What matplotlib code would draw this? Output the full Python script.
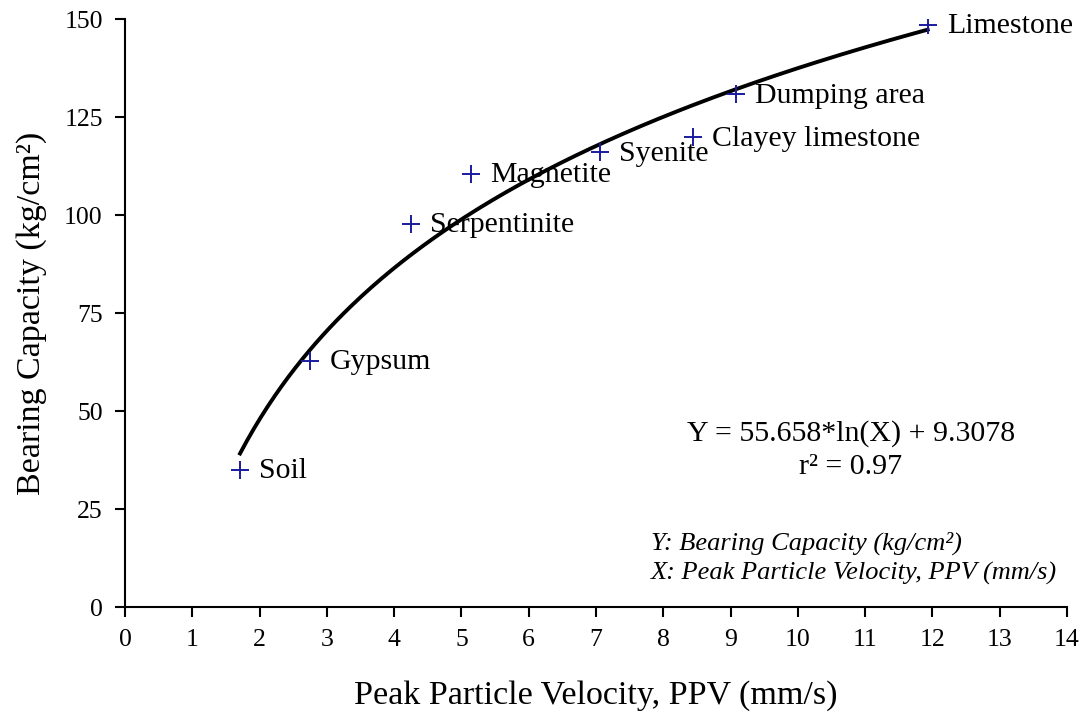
import numpy as np
import matplotlib
matplotlib.use("Agg")
import matplotlib.pyplot as plt

plt.rcParams['font.family'] = ['Liberation Serif', 'DejaVu Serif']

# Data
sites = ["Soil", "Gypsum", "Serpentinite", "Magnetite", "Syenite",
         "Clayey limestone", "Dumping area", "Limestone"]
ppv = [1.71, 2.75, 4.25, 5.14, 7.06, 8.44, 9.08, 11.93]
bearing = [35.0, 62.8, 97.7, 110.5, 116.0, 119.8, 130.8, 148.5]
fit_a = 55.658
fit_b = 9.3078
x_ticks = list(range(0, 15))
y_ticks = [0, 25, 50, 75, 100, 125, 150]

fig = plt.figure(figsize=(10.83, 7.15), dpi=100)
ax = fig.add_axes([0.1154, 0.151, 0.8698, 0.8224])

xf = np.linspace(min(ppv), max(ppv), 200)
ax.plot(xf, fit_a * np.log(xf) + fit_b, color='black', lw=2.8, zorder=2)
ax.plot(ppv, bearing, linestyle='none', marker='+', markersize=13,
        markeredgewidth=1.4, color='#1a1aa0', zorder=3)

for s, x, y in zip(sites, ppv, bearing):
    ax.annotate(s, (x, y), xytext=(14, -1), textcoords='offset points',
                ha='left', va='center', fontsize=21.5)

ax.set_xlim(0, 14)
ax.set_ylim(0, 150)
ax.set_xticks(x_ticks)
ax.set_yticks(y_ticks)
ax.tick_params(direction='out', length=7, width=1.5, labelsize=18.5, pad=9)
for sp in ['top', 'right']:
    ax.spines[sp].set_visible(False)
for sp in ['left', 'bottom']:
    ax.spines[sp].set_linewidth(1.5)

ax.set_xlabel("Peak Particle Velocity, PPV (mm/s)", fontsize=24.5, labelpad=21)
ax.set_ylabel("Bearing Capacity (kg/cm²)", fontsize=24.5, labelpad=12)

ax.text(10.79, 44.3, "Y = 55.658*ln(X) + 9.3078", ha='center', va='center', fontsize=21.5)
ax.text(10.79, 35.8, "r² = 0.97", ha='center', va='center', fontsize=21.5)
ax.text(7.82, 16.2, "Y: Bearing Capacity (kg/cm²)", ha='left', va='center',
        fontsize=19, style='italic')
ax.text(7.82, 8.6, "X: Peak Particle Velocity, PPV (mm/s)", ha='left', va='center',
        fontsize=19, style='italic')

fig.savefig("out.png", dpi=100)
